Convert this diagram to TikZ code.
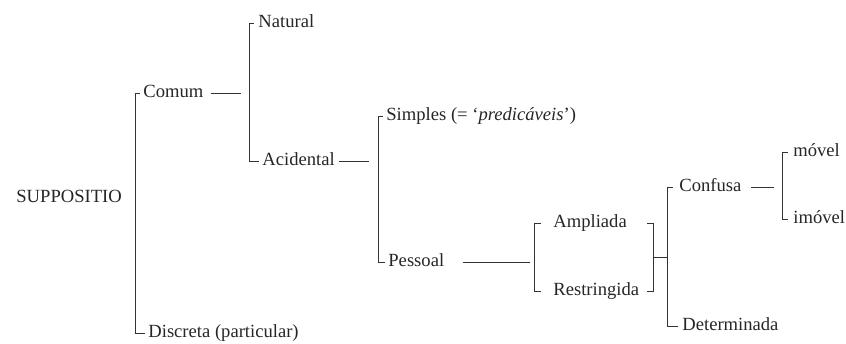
\documentclass[tikz,border=0pt]{standalone}
\usepackage{fontspec}
\setmainfont{Liberation Serif}
\usetikzlibrary{calc}
\tikzstyle{lbl} = [anchor=west,inner sep=0pt,text height=4.3pt,text depth=0pt,text=black!85,font=\fontsize{9.3}{11}\selectfont]
\tikzstyle{brk} = [draw=black!80,line width=0.45pt]

\begin{document}
\begin{tikzpicture}[x=0.5pt,y=-0.5pt]
\useasboundingbox (0,0) rectangle (846,343);

% Draw labels

    \node[lbl] at (16,198) (supp) {SUPPOSITIO};
    \node[lbl] at (143,93) (comum) {Comum};
    \node[lbl] at (148,333) (discreta) {Discreta (particular)};
    \node[lbl] at (258,23) (natural) {Natural};
    \node[lbl] at (262,161) (acidental) {Acidental};
    \node[lbl] at (386,116) (simples) {Simples (= ‘\textit{predicáveis}’)};
    \node[lbl] at (388,262) (pessoal) {Pessoal};
    \node[lbl] at (553,223) (ampliada) {Ampliada};
    \node[lbl] at (553,291) (restringida) {Restringida};
    \node[lbl] at (679,187) (confusa) {Confusa};
    \node[lbl] at (682,326) (determinada) {Determinada};
    \node[lbl] at (793,152) (movel) {móvel};
    \node[lbl] at (793,219) (imovel) {imóvel};

% Draw brackets and dashes

    \draw[brk] ($(comum.west)+(-3,0)$) -- ++(-5,0) |- ($(discreta.west)+(-3,0)$);
    \draw[brk] ($(comum.east)+(7,0)$) -- ++(30,0);
    \draw[brk] ($(natural.west)+(-4,0)$) -- ++(-5,0) |- ($(acidental.west)+(-3,0)$);
    \draw[brk] ($(acidental.east)+(4,0)$) -- ++(30,0);
    \draw[brk] ($(simples.west)+(-3,0)$) -- ++(-5,0) |- ($(pessoal.west)+(-3,0)$);
    \draw[brk] ($(pessoal.east)+(18,0)$) -- ++(67,0);
    \draw[brk] ($(ampliada.west)+(-12,0)$) -- ++(-7,0) |- ($(restringida.west)+(-12,0)$);
    \draw[brk] ($(restringida.east)+(7,0)$) -- ++(7,0) |- ($(ampliada.east)+(20,0)$);
    \coordinate (b5) at ($(restringida.east)+(14,-34)$);
    \coordinate (b6) at ($(confusa.west)+(-12,0)$);
    \draw[brk] (b5) -- (b5 -| b6);
    \draw[brk] ($(confusa.west)+(-6,0)$) -- (b6) |- ($(determinada.west)+(-4,0)$);
    \draw[brk] ($(confusa.east)+(9,0)$) -- ++(23,0);
    \draw[brk] ($(movel.west)+(-5,0)$) -- ++(-6,0) |- ($(imovel.west)+(-5,0)$);

\end{tikzpicture}
\end{document}
